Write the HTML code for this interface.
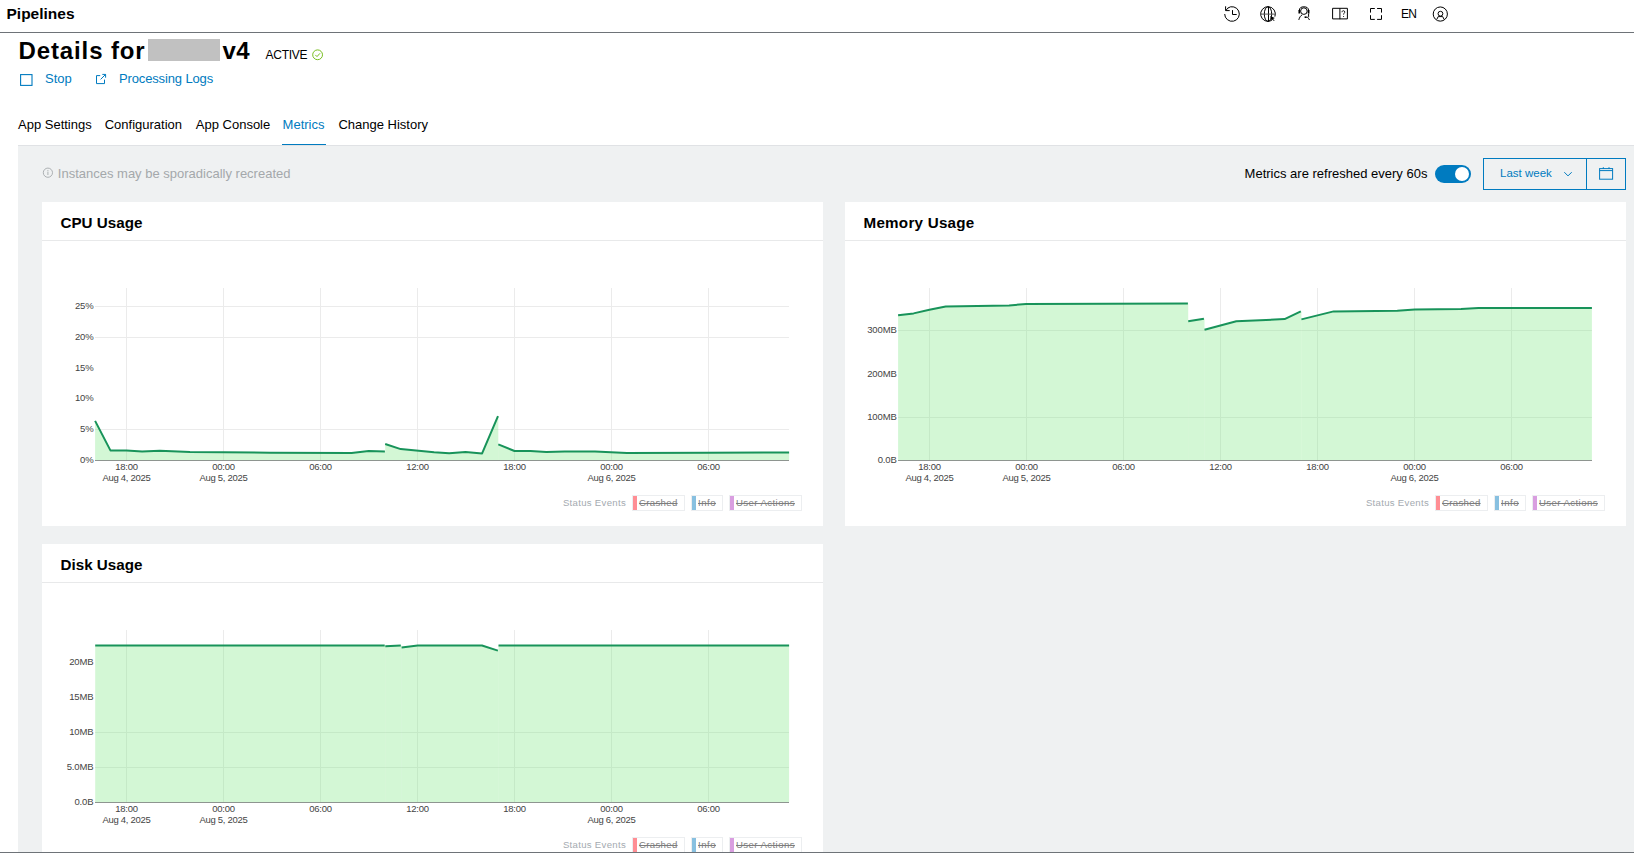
<!DOCTYPE html>
<html><head><meta charset="utf-8"><style>
html,body{margin:0;padding:0;background:#fff;}
body{width:1634px;height:857px;overflow:hidden;position:relative;font-family:"Liberation Sans", sans-serif;}
.t{position:absolute;line-height:1;white-space:nowrap;}
.r{position:absolute;}
</style></head><body>
<div class="t" style="left:6.50px;top:6.18px;font-size:15.5px;font-weight:700;color:#000;letter-spacing:0px;">Pipelines</div>
<div class="r" style="left:0px;top:32px;width:1634px;height:1px;background:#6e7378"></div>

<svg class="r" style="left:0;top:0" width="1634" height="32" viewBox="0 0 1634 32">
 <g fill="none" stroke="#000" stroke-width="1" stroke-linecap="butt">
  <!-- history -->
  <path d="M1227.7 8.1 A7.3 7.3 0 1 1 1224.7 14"/>
  <path d="M1225.6 6.3 V10.6 H1229.7 M1225.9 10.3 L1228.1 8.0"/>
  <path d="M1232.5 10.1 V14.5 H1236.7"/>
  <!-- globe -->
  <path d="M1271.5 20.5 A7.35 7.35 0 1 1 1274.9 16.6"/>
  <ellipse cx="1268" cy="14.05" rx="3.7" ry="7.3"/>
  <path d="M1268.5 6.7 V21.4" /><path d="M1260.7 14.1 H1275.3" stroke="#555"/>
  <!-- support person -->
  <circle cx="1303.9" cy="11.1" r="3.3"/>
  <path d="M1299.3 10.5 C1299.3 7.8 1301.2 6.8 1303.9 6.8 C1306.6 6.8 1308.6 7.8 1308.6 10.5"/>
  <path d="M1299.3 10 V13.6 M1308.6 10 V13.6" stroke-width="1.7"/>
  <path d="M1298.8 19.9 C1299.4 17.4 1300.6 15.6 1302.2 14.9"/>
  <path d="M1308.6 13.6 V16.6 Q1308.6 17.3 1307.8 17.3 H1306.5"/>
  <path d="M1304.6 17.2 H1306.6" stroke-width="1.6"/>
  <path d="M1308.4 18.2 L1309.5 20"/>
  <!-- book -->
  <path d="M1332.6 18.9 V8.3 H1347.4 V18.9 Z"/>
  <path d="M1339.9 8.3 V19.2"/>
  <!-- fullscreen -->
  <path d="M1370.5 12.6 V8.5 H1374.8 M1377.1 8.5 H1381.5 V12.6 M1381.5 15.2 V19.4 H1377.1 M1374.8 19.4 H1370.5 V15.2"/>
  <!-- user -->
  <circle cx="1440.3" cy="14.05" r="7.1"/>
  <circle cx="1440.45" cy="13.7" r="2.4"/>
  <path d="M1436.8 19.4 L1438.2 16.6 H1442.7 L1444.1 19.4"/>
 </g>
 <path d="M1342 12.2 c0-.9 .6-1.5 1.4-1.5 s1.4.6 1.4 1.3 c0 1-1.2 1.2-1.2 2.6" fill="none" stroke="#000" stroke-width=".9"/>
 <circle cx="1343.6" cy="16.5" r=".55" fill="#000"/>
 <path d="M1270.2 16.1 L1274.9 18.1 L1273 18.9 L1274.6 20.5 L1274 21.1 L1272.4 19.5 L1271.7 21.2 Z" fill="#000"/>
</svg>
<div class="t" style="left:1401.00px;top:7.74px;font-size:12px;font-weight:400;color:#000;letter-spacing:-0.7px;">EN</div>
<div class="t" style="left:18.50px;top:38.98px;font-size:24px;font-weight:700;color:#000;letter-spacing:0.88px;">Details for</div>
<div class="r" style="left:148px;top:39px;width:72px;height:22px;background:#c1c1c1"></div>
<div class="t" style="left:222.50px;top:38.98px;font-size:24px;font-weight:700;color:#000;letter-spacing:0.3px;">v4</div>
<div class="t" style="left:265.60px;top:49.14px;font-size:12px;font-weight:400;color:#000;letter-spacing:-0.28px;">ACTIVE</div>
<svg class="r" style="left:0;top:0" width="400" height="100">
 <circle cx="317.6" cy="54.8" r="4.9" fill="none" stroke="#78be20" stroke-width="1"/>
 <path d="M315.3 54.9 L317 56.6 L320 53.3" fill="none" stroke="#78be20" stroke-width="1"/>
 <rect x="20.6" y="74.6" width="11.4" height="10.8" fill="none" stroke="#007bc0" stroke-width="1.1"/>
 <path d="M100.2 75.6 H96.5 V83.6 H104.5 V79.6 M100.6 79.4 L105.6 74.4 M102.3 74.4 H105.6 V77.7" fill="none" stroke="#007bc0" stroke-width="1"/>
</svg>
<div class="t" style="left:45.00px;top:71.80px;font-size:13px;font-weight:400;color:#007bc0;letter-spacing:0px;">Stop</div>
<div class="t" style="left:119.00px;top:71.80px;font-size:13px;font-weight:400;color:#007bc0;letter-spacing:-0.14px;">Processing Logs</div>
<div class="t" style="left:18.00px;top:118.10px;font-size:13px;font-weight:400;color:#000;letter-spacing:0px;">App Settings</div>
<div class="t" style="left:104.70px;top:118.10px;font-size:13px;font-weight:400;color:#000;letter-spacing:0px;">Configuration</div>
<div class="t" style="left:195.80px;top:118.10px;font-size:13px;font-weight:400;color:#000;letter-spacing:0px;">App Console</div>
<div class="t" style="left:282.60px;top:118.10px;font-size:13px;font-weight:400;color:#007bc0;letter-spacing:0px;">Metrics</div>
<div class="t" style="left:338.40px;top:118.10px;font-size:13px;font-weight:400;color:#000;letter-spacing:0px;">Change History</div>
<div class="r" style="left:18px;top:145px;width:1616px;height:707px;background:#eff1f2;border-top:1px solid #e0e2e5;box-sizing:border-box"></div>
<div class="r" style="left:282px;top:144px;width:44px;height:1px;background:#007bc0"></div>
<svg class="r" style="left:0;top:150" width="1634" height="50">
 <circle cx="47.9" cy="22.7" r="4.6" fill="none" stroke="#a4a8ab" stroke-width="0.9"/>
 <path d="M47.9 21.6 V25 M47.9 20 V20.9" stroke="#a4a8ab" stroke-width="0.9"/>
</svg>
<div class="t" style="left:57.80px;top:166.90px;font-size:13px;font-weight:400;color:#a4a8ab;letter-spacing:0px;">Instances may be sporadically recreated</div>
<div class="t" style="left:1244.60px;top:167.30px;font-size:13px;font-weight:400;color:#000;letter-spacing:0px;">Metrics are refreshed every 60s</div>
<div class="r" style="left:1435px;top:165px;width:36px;height:18px;background:#007bc0;border-radius:9px"></div>
<div class="r" style="left:1455px;top:167px;width:14px;height:14px;background:#fff;border-radius:50%"></div>
<div class="r" style="left:1483px;top:158px;width:143px;height:32px;border:1px solid #007bc0;box-sizing:border-box"></div>
<div class="r" style="left:1586px;top:158px;width:1px;height:32px;background:#007bc0"></div>
<div class="t" style="left:1500.00px;top:167.97px;font-size:11.5px;font-weight:400;color:#007bc0;letter-spacing:0px;">Last week</div>
<svg class="r" style="left:1550;top:160" width="80" height="30">
 <path d="M14.3 12.2 L18 15.9 L21.7 12.2" fill="none" stroke="#007bc0" stroke-width="1"/>
 <rect x="49.6" y="8.6" width="13" height="10.6" fill="none" stroke="#007bc0" stroke-width="1"/>
 <path d="M49.6 10.6 H62.6 M53.3 7.2 V9 M59 7.2 V9" stroke="#007bc0" stroke-width="1"/>
</svg>
<div class="r" style="left:42px;top:202px;width:781px;height:324px;background:#fff"></div>
<div class="r" style="left:42px;top:240px;width:781px;height:1px;background:#e8e9ea"></div>
<div class="t" style="left:60.50px;top:215.43px;font-size:15.2px;font-weight:700;color:#000;letter-spacing:0px;">CPU Usage</div>
<div class="r" style="left:845px;top:202px;width:781px;height:324px;background:#fff"></div>
<div class="r" style="left:845px;top:240px;width:781px;height:1px;background:#e8e9ea"></div>
<div class="t" style="left:863.50px;top:215.43px;font-size:15.2px;font-weight:700;color:#000;letter-spacing:0.25px;">Memory Usage</div>
<div class="r" style="left:42px;top:544px;width:781px;height:308px;background:#fff"></div>
<div class="r" style="left:42px;top:582px;width:781px;height:1px;background:#e8e9ea"></div>
<div class="t" style="left:60.50px;top:557.43px;font-size:15.2px;font-weight:700;color:#000;letter-spacing:0px;">Disk Usage</div>
<svg class="r" style="left:0;top:0" width="1634" height="857"><line x1="126.50" y1="288" x2="126.50" y2="460" stroke="#ebebeb" stroke-width="1"/><line x1="223.50" y1="288" x2="223.50" y2="460" stroke="#ebebeb" stroke-width="1"/><line x1="320.50" y1="288" x2="320.50" y2="460" stroke="#ebebeb" stroke-width="1"/><line x1="417.50" y1="288" x2="417.50" y2="460" stroke="#ebebeb" stroke-width="1"/><line x1="514.50" y1="288" x2="514.50" y2="460" stroke="#ebebeb" stroke-width="1"/><line x1="611.50" y1="288" x2="611.50" y2="460" stroke="#ebebeb" stroke-width="1"/><line x1="708.50" y1="288" x2="708.50" y2="460" stroke="#ebebeb" stroke-width="1"/><line x1="95" y1="429.50" x2="789" y2="429.50" stroke="#ebebeb" stroke-width="1"/><line x1="95" y1="337.50" x2="789" y2="337.50" stroke="#ebebeb" stroke-width="1"/><line x1="95" y1="306.50" x2="789" y2="306.50" stroke="#ebebeb" stroke-width="1"/><polygon points="95.10,460 95.10,420.90 110.40,450.40 126.50,450.60 142.10,451.60 159.80,450.80 190.00,452.10 223.30,452.20 270.20,452.70 351.60,452.90 368.70,451.10 384.90,451.40 385.20,451.40 385.20,460" fill="rgba(120,232,128,0.33)"/><polygon points="385.20,460 385.20,444.00 400.70,449.10 434.10,452.20 449.20,453.20 465.50,451.90 482.10,453.40 498.00,416.20 498.30,416.20 498.30,460" fill="rgba(120,232,128,0.33)"/><polygon points="498.30,460 498.30,444.40 514.50,451.00 530.40,451.00 546.30,451.90 564.60,451.60 595.00,451.50 611.00,452.20 626.90,453.00 707.70,452.80 789.10,452.50 789.10,452.50 789.10,460" fill="rgba(120,232,128,0.33)"/><polyline points="95.10,420.90 110.40,450.40 126.50,450.60 142.10,451.60 159.80,450.80 190.00,452.10 223.30,452.20 270.20,452.70 351.60,452.90 368.70,451.10 384.90,451.40" fill="none" stroke="#18935a" stroke-width="2" stroke-linejoin="round"/><polyline points="385.20,444.00 400.70,449.10 434.10,452.20 449.20,453.20 465.50,451.90 482.10,453.40 498.00,416.20" fill="none" stroke="#18935a" stroke-width="2" stroke-linejoin="round"/><polyline points="498.30,444.40 514.50,451.00 530.40,451.00 546.30,451.90 564.60,451.60 595.00,451.50 611.00,452.20 626.90,453.00 707.70,452.80 789.10,452.50" fill="none" stroke="#18935a" stroke-width="2" stroke-linejoin="round"/><line x1="95" y1="460.5" x2="789" y2="460.5" stroke="#8e9590" stroke-width="1"/></svg>
<div class="t" style="left:93.50px;top:455.46px;font-size:9.5px;font-weight:400;color:#444;letter-spacing:-0.15px;transform:translateX(-100%);">0%</div>
<div class="t" style="left:93.50px;top:424.46px;font-size:9.5px;font-weight:400;color:#444;letter-spacing:-0.15px;transform:translateX(-100%);">5%</div>
<div class="t" style="left:93.50px;top:393.46px;font-size:9.5px;font-weight:400;color:#444;letter-spacing:-0.15px;transform:translateX(-100%);">10%</div>
<div class="t" style="left:93.50px;top:363.46px;font-size:9.5px;font-weight:400;color:#444;letter-spacing:-0.15px;transform:translateX(-100%);">15%</div>
<div class="t" style="left:93.50px;top:332.46px;font-size:9.5px;font-weight:400;color:#444;letter-spacing:-0.15px;transform:translateX(-100%);">20%</div>
<div class="t" style="left:93.50px;top:301.46px;font-size:9.5px;font-weight:400;color:#444;letter-spacing:-0.15px;transform:translateX(-100%);">25%</div>
<div class="t" style="left:126.50px;top:461.76px;font-size:9.5px;font-weight:400;color:#444;letter-spacing:-0.3px;transform:translateX(-50%);">18:00</div>
<div class="t" style="left:126.50px;top:473.26px;font-size:9.5px;font-weight:400;color:#444;letter-spacing:-0.3px;transform:translateX(-50%);">Aug 4, 2025</div>
<div class="t" style="left:223.50px;top:461.76px;font-size:9.5px;font-weight:400;color:#444;letter-spacing:-0.3px;transform:translateX(-50%);">00:00</div>
<div class="t" style="left:223.50px;top:473.26px;font-size:9.5px;font-weight:400;color:#444;letter-spacing:-0.3px;transform:translateX(-50%);">Aug 5, 2025</div>
<div class="t" style="left:320.50px;top:461.76px;font-size:9.5px;font-weight:400;color:#444;letter-spacing:-0.3px;transform:translateX(-50%);">06:00</div>
<div class="t" style="left:417.50px;top:461.76px;font-size:9.5px;font-weight:400;color:#444;letter-spacing:-0.3px;transform:translateX(-50%);">12:00</div>
<div class="t" style="left:514.50px;top:461.76px;font-size:9.5px;font-weight:400;color:#444;letter-spacing:-0.3px;transform:translateX(-50%);">18:00</div>
<div class="t" style="left:611.50px;top:461.76px;font-size:9.5px;font-weight:400;color:#444;letter-spacing:-0.3px;transform:translateX(-50%);">00:00</div>
<div class="t" style="left:611.50px;top:473.26px;font-size:9.5px;font-weight:400;color:#444;letter-spacing:-0.3px;transform:translateX(-50%);">Aug 6, 2025</div>
<div class="t" style="left:708.50px;top:461.76px;font-size:9.5px;font-weight:400;color:#444;letter-spacing:-0.3px;transform:translateX(-50%);">06:00</div>
<div class="t" style="left:562.90px;top:498.27px;font-size:9.6px;font-weight:400;color:#a4aab0;letter-spacing:0.3px;">Status Events</div>
<div class="r" style="left:632px;top:495px;width:53px;height:16px;border:1px solid #eceef0;box-sizing:border-box;background:#fff"></div>
<div class="r" style="left:633px;top:496px;width:4px;height:14px;background:#ff8e94"></div>
<div class="t" style="left:639.00px;top:498.27px;font-size:9.6px;font-weight:400;color:#7d7d7d;letter-spacing:0.33px;text-decoration:line-through;">Crashed</div>
<div class="r" style="left:691px;top:495px;width:32px;height:16px;border:1px solid #eceef0;box-sizing:border-box;background:#fff"></div>
<div class="r" style="left:692px;top:496px;width:4px;height:14px;background:#88c0e0"></div>
<div class="t" style="left:698.00px;top:498.27px;font-size:9.6px;font-weight:400;color:#7d7d7d;letter-spacing:0.5px;text-decoration:line-through;">Info</div>
<div class="r" style="left:729px;top:495px;width:73px;height:16px;border:1px solid #eceef0;box-sizing:border-box;background:#fff"></div>
<div class="r" style="left:730px;top:496px;width:4px;height:14px;background:#d99ee0"></div>
<div class="t" style="left:736.00px;top:498.27px;font-size:9.6px;font-weight:400;color:#7d7d7d;letter-spacing:0.42px;text-decoration:line-through;">User Actions</div>
<svg class="r" style="left:0;top:0" width="1634" height="857"><line x1="929.50" y1="288" x2="929.50" y2="460" stroke="#ebebeb" stroke-width="1"/><line x1="1026.50" y1="288" x2="1026.50" y2="460" stroke="#ebebeb" stroke-width="1"/><line x1="1123.50" y1="288" x2="1123.50" y2="460" stroke="#ebebeb" stroke-width="1"/><line x1="1220.50" y1="288" x2="1220.50" y2="460" stroke="#ebebeb" stroke-width="1"/><line x1="1317.50" y1="288" x2="1317.50" y2="460" stroke="#ebebeb" stroke-width="1"/><line x1="1414.50" y1="288" x2="1414.50" y2="460" stroke="#ebebeb" stroke-width="1"/><line x1="1511.50" y1="288" x2="1511.50" y2="460" stroke="#ebebeb" stroke-width="1"/><line x1="898" y1="417.50" x2="1592" y2="417.50" stroke="#ebebeb" stroke-width="1"/><line x1="898" y1="330.50" x2="1592" y2="330.50" stroke="#ebebeb" stroke-width="1"/><polygon points="898.10,460 898.10,315.30 913.60,313.40 929.40,309.70 945.70,306.40 1009.10,305.50 1026.20,303.90 1187.90,303.60 1188.20,303.60 1188.20,460" fill="rgba(120,232,128,0.33)"/><polygon points="1188.20,460 1188.20,321.20 1203.90,318.80 1204.50,318.80 1204.50,460" fill="rgba(120,232,128,0.33)"/><polygon points="1204.50,460 1204.50,329.80 1236.30,321.20 1284.60,319.10 1300.80,311.40 1301.40,311.40 1301.40,460" fill="rgba(120,232,128,0.33)"/><polygon points="1301.40,460 1301.40,319.40 1333.60,311.40 1397.30,310.70 1414.80,309.40 1461.00,309.10 1478.40,308.10 1591.90,308.10 1591.90,308.10 1591.90,460" fill="rgba(120,232,128,0.33)"/><polyline points="898.10,315.30 913.60,313.40 929.40,309.70 945.70,306.40 1009.10,305.50 1026.20,303.90 1187.90,303.60" fill="none" stroke="#18935a" stroke-width="2" stroke-linejoin="round"/><polyline points="1188.20,321.20 1203.90,318.80" fill="none" stroke="#18935a" stroke-width="2" stroke-linejoin="round"/><polyline points="1204.50,329.80 1236.30,321.20 1284.60,319.10 1300.80,311.40" fill="none" stroke="#18935a" stroke-width="2" stroke-linejoin="round"/><polyline points="1301.40,319.40 1333.60,311.40 1397.30,310.70 1414.80,309.40 1461.00,309.10 1478.40,308.10 1591.90,308.10" fill="none" stroke="#18935a" stroke-width="2" stroke-linejoin="round"/><line x1="898" y1="460.5" x2="1592" y2="460.5" stroke="#8e9590" stroke-width="1"/></svg>
<div class="t" style="left:896.60px;top:455.46px;font-size:9.5px;font-weight:400;color:#444;letter-spacing:-0.15px;transform:translateX(-100%);">0.0B</div>
<div class="t" style="left:896.60px;top:412.46px;font-size:9.5px;font-weight:400;color:#444;letter-spacing:-0.15px;transform:translateX(-100%);">100MB</div>
<div class="t" style="left:896.60px;top:369.46px;font-size:9.5px;font-weight:400;color:#444;letter-spacing:-0.15px;transform:translateX(-100%);">200MB</div>
<div class="t" style="left:896.60px;top:325.46px;font-size:9.5px;font-weight:400;color:#444;letter-spacing:-0.15px;transform:translateX(-100%);">300MB</div>
<div class="t" style="left:929.50px;top:461.76px;font-size:9.5px;font-weight:400;color:#444;letter-spacing:-0.3px;transform:translateX(-50%);">18:00</div>
<div class="t" style="left:929.50px;top:473.26px;font-size:9.5px;font-weight:400;color:#444;letter-spacing:-0.3px;transform:translateX(-50%);">Aug 4, 2025</div>
<div class="t" style="left:1026.50px;top:461.76px;font-size:9.5px;font-weight:400;color:#444;letter-spacing:-0.3px;transform:translateX(-50%);">00:00</div>
<div class="t" style="left:1026.50px;top:473.26px;font-size:9.5px;font-weight:400;color:#444;letter-spacing:-0.3px;transform:translateX(-50%);">Aug 5, 2025</div>
<div class="t" style="left:1123.50px;top:461.76px;font-size:9.5px;font-weight:400;color:#444;letter-spacing:-0.3px;transform:translateX(-50%);">06:00</div>
<div class="t" style="left:1220.50px;top:461.76px;font-size:9.5px;font-weight:400;color:#444;letter-spacing:-0.3px;transform:translateX(-50%);">12:00</div>
<div class="t" style="left:1317.50px;top:461.76px;font-size:9.5px;font-weight:400;color:#444;letter-spacing:-0.3px;transform:translateX(-50%);">18:00</div>
<div class="t" style="left:1414.50px;top:461.76px;font-size:9.5px;font-weight:400;color:#444;letter-spacing:-0.3px;transform:translateX(-50%);">00:00</div>
<div class="t" style="left:1414.50px;top:473.26px;font-size:9.5px;font-weight:400;color:#444;letter-spacing:-0.3px;transform:translateX(-50%);">Aug 6, 2025</div>
<div class="t" style="left:1511.50px;top:461.76px;font-size:9.5px;font-weight:400;color:#444;letter-spacing:-0.3px;transform:translateX(-50%);">06:00</div>
<div class="t" style="left:1365.90px;top:498.27px;font-size:9.6px;font-weight:400;color:#a4aab0;letter-spacing:0.3px;">Status Events</div>
<div class="r" style="left:1435px;top:495px;width:53px;height:16px;border:1px solid #eceef0;box-sizing:border-box;background:#fff"></div>
<div class="r" style="left:1436px;top:496px;width:4px;height:14px;background:#ff8e94"></div>
<div class="t" style="left:1442.00px;top:498.27px;font-size:9.6px;font-weight:400;color:#7d7d7d;letter-spacing:0.33px;text-decoration:line-through;">Crashed</div>
<div class="r" style="left:1494px;top:495px;width:32px;height:16px;border:1px solid #eceef0;box-sizing:border-box;background:#fff"></div>
<div class="r" style="left:1495px;top:496px;width:4px;height:14px;background:#88c0e0"></div>
<div class="t" style="left:1501.00px;top:498.27px;font-size:9.6px;font-weight:400;color:#7d7d7d;letter-spacing:0.5px;text-decoration:line-through;">Info</div>
<div class="r" style="left:1532px;top:495px;width:73px;height:16px;border:1px solid #eceef0;box-sizing:border-box;background:#fff"></div>
<div class="r" style="left:1533px;top:496px;width:4px;height:14px;background:#d99ee0"></div>
<div class="t" style="left:1539.00px;top:498.27px;font-size:9.6px;font-weight:400;color:#7d7d7d;letter-spacing:0.42px;text-decoration:line-through;">User Actions</div>
<svg class="r" style="left:0;top:0" width="1634" height="857"><line x1="126.50" y1="630" x2="126.50" y2="802" stroke="#ebebeb" stroke-width="1"/><line x1="223.50" y1="630" x2="223.50" y2="802" stroke="#ebebeb" stroke-width="1"/><line x1="320.50" y1="630" x2="320.50" y2="802" stroke="#ebebeb" stroke-width="1"/><line x1="417.50" y1="630" x2="417.50" y2="802" stroke="#ebebeb" stroke-width="1"/><line x1="514.50" y1="630" x2="514.50" y2="802" stroke="#ebebeb" stroke-width="1"/><line x1="611.50" y1="630" x2="611.50" y2="802" stroke="#ebebeb" stroke-width="1"/><line x1="708.50" y1="630" x2="708.50" y2="802" stroke="#ebebeb" stroke-width="1"/><line x1="95" y1="767.50" x2="789" y2="767.50" stroke="#ebebeb" stroke-width="1"/><line x1="95" y1="732.50" x2="789" y2="732.50" stroke="#ebebeb" stroke-width="1"/><polygon points="95.20,802 95.20,645.50 384.70,645.50 385.30,645.50 385.30,802" fill="rgba(120,232,128,0.33)"/><polygon points="385.30,802 385.30,646.30 400.80,645.50 401.60,645.50 401.60,802" fill="rgba(120,232,128,0.33)"/><polygon points="401.60,802 401.60,647.50 417.70,645.50 482.00,645.50 497.90,650.60 498.50,650.60 498.50,802" fill="rgba(120,232,128,0.33)"/><polygon points="498.50,802 498.50,645.50 789.10,645.50 789.10,645.50 789.10,802" fill="rgba(120,232,128,0.33)"/><polyline points="95.20,645.50 384.70,645.50" fill="none" stroke="#18935a" stroke-width="2" stroke-linejoin="round"/><polyline points="385.30,646.30 400.80,645.50" fill="none" stroke="#18935a" stroke-width="2" stroke-linejoin="round"/><polyline points="401.60,647.50 417.70,645.50 482.00,645.50 497.90,650.60" fill="none" stroke="#18935a" stroke-width="2" stroke-linejoin="round"/><polyline points="498.50,645.50 789.10,645.50" fill="none" stroke="#18935a" stroke-width="2" stroke-linejoin="round"/><line x1="95" y1="802.5" x2="789" y2="802.5" stroke="#8e9590" stroke-width="1"/></svg>
<div class="t" style="left:93.40px;top:797.46px;font-size:9.5px;font-weight:400;color:#444;letter-spacing:-0.15px;transform:translateX(-100%);">0.0B</div>
<div class="t" style="left:93.40px;top:762.46px;font-size:9.5px;font-weight:400;color:#444;letter-spacing:-0.15px;transform:translateX(-100%);">5.0MB</div>
<div class="t" style="left:93.40px;top:727.46px;font-size:9.5px;font-weight:400;color:#444;letter-spacing:-0.15px;transform:translateX(-100%);">10MB</div>
<div class="t" style="left:93.40px;top:692.46px;font-size:9.5px;font-weight:400;color:#444;letter-spacing:-0.15px;transform:translateX(-100%);">15MB</div>
<div class="t" style="left:93.40px;top:657.46px;font-size:9.5px;font-weight:400;color:#444;letter-spacing:-0.15px;transform:translateX(-100%);">20MB</div>
<div class="t" style="left:126.50px;top:803.76px;font-size:9.5px;font-weight:400;color:#444;letter-spacing:-0.3px;transform:translateX(-50%);">18:00</div>
<div class="t" style="left:126.50px;top:815.26px;font-size:9.5px;font-weight:400;color:#444;letter-spacing:-0.3px;transform:translateX(-50%);">Aug 4, 2025</div>
<div class="t" style="left:223.50px;top:803.76px;font-size:9.5px;font-weight:400;color:#444;letter-spacing:-0.3px;transform:translateX(-50%);">00:00</div>
<div class="t" style="left:223.50px;top:815.26px;font-size:9.5px;font-weight:400;color:#444;letter-spacing:-0.3px;transform:translateX(-50%);">Aug 5, 2025</div>
<div class="t" style="left:320.50px;top:803.76px;font-size:9.5px;font-weight:400;color:#444;letter-spacing:-0.3px;transform:translateX(-50%);">06:00</div>
<div class="t" style="left:417.50px;top:803.76px;font-size:9.5px;font-weight:400;color:#444;letter-spacing:-0.3px;transform:translateX(-50%);">12:00</div>
<div class="t" style="left:514.50px;top:803.76px;font-size:9.5px;font-weight:400;color:#444;letter-spacing:-0.3px;transform:translateX(-50%);">18:00</div>
<div class="t" style="left:611.50px;top:803.76px;font-size:9.5px;font-weight:400;color:#444;letter-spacing:-0.3px;transform:translateX(-50%);">00:00</div>
<div class="t" style="left:611.50px;top:815.26px;font-size:9.5px;font-weight:400;color:#444;letter-spacing:-0.3px;transform:translateX(-50%);">Aug 6, 2025</div>
<div class="t" style="left:708.50px;top:803.76px;font-size:9.5px;font-weight:400;color:#444;letter-spacing:-0.3px;transform:translateX(-50%);">06:00</div>
<div class="t" style="left:562.90px;top:840.27px;font-size:9.6px;font-weight:400;color:#a4aab0;letter-spacing:0.3px;">Status Events</div>
<div class="r" style="left:632px;top:837px;width:53px;height:16px;border:1px solid #eceef0;box-sizing:border-box;background:#fff"></div>
<div class="r" style="left:633px;top:838px;width:4px;height:14px;background:#ff8e94"></div>
<div class="t" style="left:639.00px;top:840.27px;font-size:9.6px;font-weight:400;color:#7d7d7d;letter-spacing:0.33px;text-decoration:line-through;">Crashed</div>
<div class="r" style="left:691px;top:837px;width:32px;height:16px;border:1px solid #eceef0;box-sizing:border-box;background:#fff"></div>
<div class="r" style="left:692px;top:838px;width:4px;height:14px;background:#88c0e0"></div>
<div class="t" style="left:698.00px;top:840.27px;font-size:9.6px;font-weight:400;color:#7d7d7d;letter-spacing:0.5px;text-decoration:line-through;">Info</div>
<div class="r" style="left:729px;top:837px;width:73px;height:16px;border:1px solid #eceef0;box-sizing:border-box;background:#fff"></div>
<div class="r" style="left:730px;top:838px;width:4px;height:14px;background:#d99ee0"></div>
<div class="t" style="left:736.00px;top:840.27px;font-size:9.6px;font-weight:400;color:#7d7d7d;letter-spacing:0.42px;text-decoration:line-through;">User Actions</div>
<div class="r" style="left:0px;top:852px;width:1634px;height:1px;background:#6e7378"></div>
<div class="r" style="left:0px;top:853px;width:1634px;height:4px;background:#fff"></div>
</body></html>
